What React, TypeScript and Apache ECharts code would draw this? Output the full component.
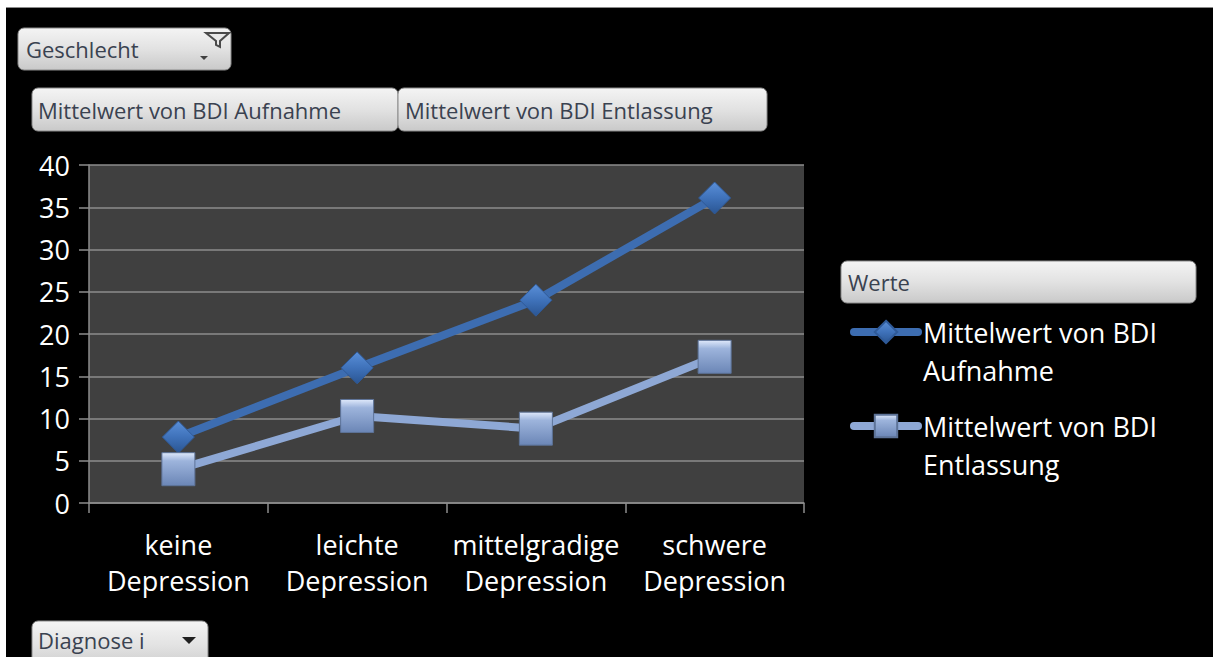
import React, { useEffect, useRef } from "react";
import * as echarts from "echarts";

const categories = ["keine Depression", "leichte Depression", "mittelgradige Depression", "schwere Depression"];
const aufnahme = [7.8, 16, 24, 36.1];
const entlassung = [4, 10.3, 8.8, 17.3];
const seriesNames = ["Mittelwert von BDI Aufnahme", "Mittelwert von BDI Entlassung"];
const yTicks = { min: 0, max: 40, interval: 5 };

const FONT = "'Open Sans', 'Noto Sans', sans-serif";
const BTN_TEXT = "#3a4250";

const btnFill = {
  type: "linear", x: 0, y: 0, x2: 0, y2: 1,
  colorStops: [
    { offset: 0, color: "#f4f4f4" },
    { offset: 0.5, color: "#e2e2e2" },
    { offset: 1, color: "#c9c9c9" },
  ],
};

function button(x: number, y: number, w: number, h: number, label: string, tx: number, ty?: number) {
  return [
    {
      type: "rect",
      shape: { x, y, width: w, height: h, r: 6 },
      style: { fill: btnFill, stroke: "#8a8a8a", lineWidth: 1 },
      z: 10,
    },
    {
      type: "text",
      x: tx,
      y: ty !== undefined ? ty : y + h / 2,
      style: { text: label, fill: BTN_TEXT, font: `22px ${FONT}`, verticalAlign: "middle", align: "left" },
      z: 11,
    },
  ];
}

export default function App() {
  const ref = useRef<HTMLDivElement>(null);
  useEffect(() => {
    if (!ref.current) return;
    const chart = echarts.init(ref.current, undefined, { renderer: "svg" });
    const option: any = {
      animation: false,
      backgroundColor: "#000000",
      textStyle: { fontFamily: FONT },
      grid: {
        left: 89, right: 409, top: 165, bottom: 154,
        show: true, backgroundColor: "#404040", borderWidth: 0,
        containLabel: false, outerBoundsMode: "none",
      },
      xAxis: {
        type: "category",
        data: categories,
        boundaryGap: true,
        axisLine: { show: true, lineStyle: { color: "#8c8c8c", width: 1.5 } },
        axisTick: { show: true, length: 10, interval: 0, alignWithLabel: false, lineStyle: { color: "#8c8c8c", width: 1.5 } },
        axisLabel: {
          interval: 0, color: "#ffffff", fontSize: 27, lineHeight: 36, margin: 23, fontFamily: FONT,
          formatter: (v: string) => v.replace(" ", "\n"),
        },
        splitLine: { show: false },
      },
      yAxis: {
        type: "value",
        min: yTicks.min, max: yTicks.max, interval: yTicks.interval,
        axisLine: { show: true, lineStyle: { color: "#8c8c8c", width: 1.5 } },
        axisTick: { show: true, length: 10, inside: false, lineStyle: { color: "#8c8c8c", width: 1.5 } },
        axisLabel: { color: "#ffffff", fontSize: 27, margin: 19, fontFamily: FONT },
        splitLine: { show: true, lineStyle: { color: "#8c8c8c", width: 1.5 } },
      },
      legend: {
        orient: "vertical",
        left: 850,
        top: 275,
        padding: 0,
        itemGap: -20,
        itemWidth: 64,
        itemHeight: 28,
        data: seriesNames,
        formatter: (n: string) => "\n" + n.replace("BDI ", "BDI\n"),
        textStyle: { color: "#ffffff", fontSize: 27, lineHeight: 38, fontFamily: FONT },
        lineStyle: { width: 8, cap: "round" },
        selectedMode: false,
      },
      series: [
        {
          name: seriesNames[0],
          type: "line",
          data: aufnahme,
          symbol: "diamond",
          symbolSize: 32,
          lineStyle: { color: "#3d6db1", width: 8, cap: "round" },
          itemStyle: {
            color: {
              type: "linear", x: 0, y: 0, x2: 0, y2: 1,
              colorStops: [
                { offset: 0, color: "#5a8fd8" },
                { offset: 0.5, color: "#3f72ba" },
                { offset: 1, color: "#2a5592" },
              ],
            },
            borderColor: "#2f5a98",
            borderWidth: 1,
          },
          z: 3,
        },
        {
          name: seriesNames[1],
          type: "line",
          data: entlassung,
          symbol: "rect",
          symbolSize: 33,
          lineStyle: { color: "#8ea8d5", width: 8, cap: "round" },
          itemStyle: {
            color: {
              type: "linear", x: 0, y: 0, x2: 0, y2: 1,
              colorStops: [
                { offset: 0, color: "#dfe9fb" },
                { offset: 0.25, color: "#9db4dc" },
                { offset: 1, color: "#6b86b6" },
              ],
            },
            borderColor: "#5d7398",
            borderWidth: 1,
          },
          z: 4,
        },
      ],
      graphic: [
        { type: "rect", shape: { x: 0, y: 0, width: 1213, height: 7 }, style: { fill: "#ffffff" }, z: 20 },
        { type: "rect", shape: { x: 0, y: 0, width: 6, height: 657 }, style: { fill: "#ffffff" }, z: 20 },
        { type: "line", shape: { x1: 6, y1: 7.5, x2: 1213, y2: 7.5 }, style: { stroke: "#8a8a8a", lineWidth: 1 }, z: 20 },
        ...button(18, 28, 213, 42, "Geschlecht", 26),
        { type: "polygon", shape: { points: [[200, 56], [208, 56], [204, 60]] }, style: { fill: "#404040" }, z: 12 },
        { type: "polygon", shape: { points: [[206, 33], [229, 33], [220, 41], [220, 47], [216, 45], [216, 41]] }, style: { fill: "#e8e8e8", stroke: "#4a4a4a", lineWidth: 2 }, z: 12 },
        ...button(32, 88, 366, 43, "Mittelwert von BDI Aufnahme", 38),
        ...button(398, 88, 369, 43, "Mittelwert von BDI Entlassung", 405),
        ...button(841, 261, 355, 42, "Werte", 848),
        ...button(32, 621, 176, 50, "Diagnose i", 38, 640),
        { type: "polygon", shape: { points: [[182, 637], [196, 637], [189, 644]] }, style: { fill: "#202020" }, z: 12 },
      ],
    };
    chart.setOption(option);
    return () => chart.dispose();
  }, []);
  return <div ref={ref} style={{ position: "fixed", left: 0, top: 0, width: 1213, height: 657 }} />;
}
